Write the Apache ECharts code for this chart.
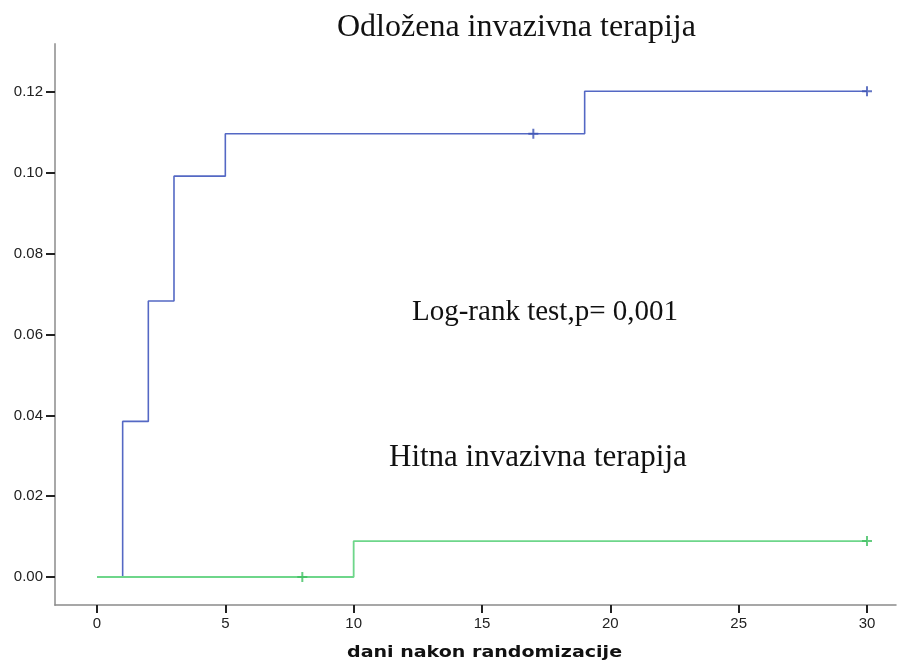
<!DOCTYPE html>
<html>
<head>
<meta charset="utf-8">
<script src="https://cdn.jsdelivr.net/npm/echarts@6/dist/echarts.min.js"></script>
<style>
  html, body { margin: 0; padding: 0; background: #fff; }
  #chart { width: 898px; height: 661px; }
</style>
</head>
<body>
<div id="chart"></div>
<script>
// Kaplan-Meier style cumulative event curves, 30-day follow-up
const daysDelayed = [0, 1, 2, 3, 5, 19, 30];
const riskDelayed = [0, 0.0385, 0.0683, 0.0992, 0.1097, 0.1202, 0.1202];
const censorDaysDelayed = [17, 30];
const censorRiskDelayed = [0.1097, 0.1202];

const daysUrgent = [0, 10, 30];
const riskUrgent = [0, 0.0089, 0.0089];
const censorDaysUrgent = [8, 30];
const censorRiskUrgent = [0, 0.0089];

const xTicks = [0, 5, 10, 15, 20, 25, 30];
const yTicks = [0, 0.02, 0.04, 0.06, 0.08, 0.10, 0.12];

const labelDelayed = 'Odložena invazivna terapija';
const labelUrgent = 'Hitna invazivna terapija';
const labelTest = 'Log-rank test,p= 0,001';
const xTitle = 'dani nakon randomizacije';

const pairs = (xs, ys) => xs.map((x, i) => [x, ys[i]]);
const crossPath = 'path://M4,0 L6,0 L6,4 L10,4 L10,6 L6,6 L6,10 L4,10 L4,6 L0,6 L0,4 L4,4 Z';
const serif = '"Liberation Serif", "Times New Roman", serif';

const chart = echarts.init(document.getElementById('chart'), null, { renderer: 'canvas' });
chart.setOption({
  animation: false,
  backgroundColor: '#ffffff',
  grid: { left: 55, right: 2, top: 44, bottom: 56, containLabel: false },
  xAxis: {
    type: 'value',
    min: -1.636,
    max: 31.13,
    axisLine: { show: true, onZero: false, lineStyle: { color: '#8a8a8a', width: 1.5 } },
    axisTick: { show: true, customValues: xTicks, length: 8, lineStyle: { color: '#222', width: 2 } },
    axisLabel: { customValues: xTicks, color: '#222', fontFamily: 'Liberation Sans, Arial', fontSize: 15, margin: 11 },
    splitLine: { show: false }
  },
  yAxis: {
    type: 'value',
    min: -0.00693,
    max: 0.1319,
    axisLine: { show: true, onZero: false, lineStyle: { color: '#a8a8a8', width: 2 } },
    axisTick: { show: true, customValues: yTicks, length: 9, lineStyle: { color: '#222', width: 2 } },
    axisLabel: {
      customValues: yTicks, color: '#222', fontFamily: 'Liberation Sans, Arial', fontSize: 15, margin: 12,
      formatter: v => v.toFixed(2)
    },
    splitLine: { show: false }
  },
  series: [
    {
      type: 'line', step: 'end', data: pairs(daysDelayed, riskDelayed),
      symbol: 'none', lineStyle: { color: '#5468c4', width: 1.6 }, z: 2
    },
    {
      type: 'line', step: 'end', data: pairs(daysUrgent, riskUrgent),
      symbol: 'none', lineStyle: { color: '#6ed68a', width: 1.8 }, z: 3
    },
    {
      type: 'scatter', data: pairs(censorDaysDelayed, censorRiskDelayed),
      symbol: crossPath, symbolSize: 10, itemStyle: { color: '#3c52b4' }, z: 4
    },
    {
      type: 'scatter', data: pairs(censorDaysUrgent, censorRiskUrgent),
      symbol: crossPath, symbolSize: 10, itemStyle: { color: '#3fbf60' }, z: 4
    }
  ],
  graphic: [
    { type: 'text', x: 337, y: 12, style: { text: labelDelayed, font: '32px ' + serif, fill: '#111' } },
    { type: 'text', x: 412, y: 298, style: { text: labelTest, font: '29px ' + serif, fill: '#111' } },
    { type: 'text', x: 389, y: 442, style: { text: labelUrgent, font: '31px ' + serif, fill: '#111' } },
    { type: 'text', x: 347, y: 645, scaleX: 1.19, style: { text: xTitle, font: 'bold 16px "DejaVu Sans", Verdana, sans-serif', fill: '#111' } }
  ]
});
</script>
</body>
</html>
